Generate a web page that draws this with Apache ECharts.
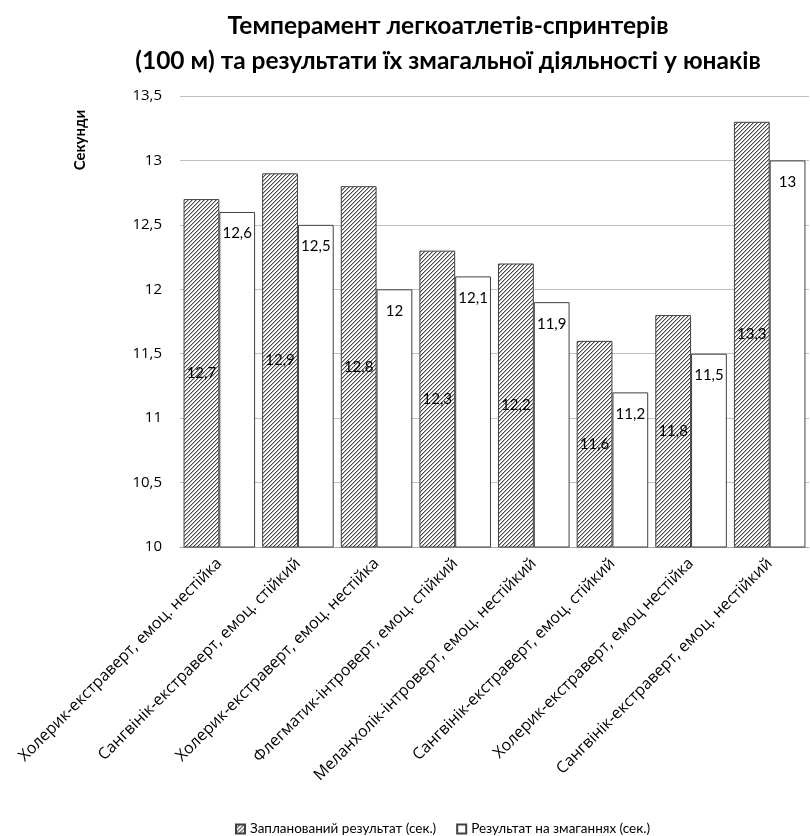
<!DOCTYPE html>
<html>
<head>
<meta charset="utf-8">
<script src="https://cdn.jsdelivr.net/npm/echarts@6/dist/echarts.min.js"></script>
<style>
  html, body { margin: 0; padding: 0; background: #fff; }
  #chart { width: 810px; height: 836px; }
</style>
</head>
<body>
<div id="chart"></div>
<script>
// категорії та значення
var categories = [
    'Холерик-екстраверт, емоц. нестійка',
    'Сангвінік-екстраверт, емоц. стійкий',
    'Холерик-екстраверт, емоц. нестійка',
    'Флегматик-інтроверт, емоц. стійкий',
    'Меланхолік-інтроверт, емоц. нестійкий',
    'Сангвінік-екстраверт, емоц. стійкий',
    'Холерик-екстраверт, емоц нестійка',
    'Сангвінік-екстраверт, емоц. нестійкий'
]
var planned = [12.7, 12.9, 12.8, 12.3, 12.2, 11.6, 11.8, 13.3]
var actual = [12.6, 12.5, 12.0, 12.1, 11.9, 11.2, 11.5, 13.0]
var seriesNames = ['Запланований результат (сек.)', 'Результат на змаганнях (сек.)']

// штриховка "////" піксель за пікселем
function hatch() {
    var n = 4
    var c = document.createElement('canvas')
    c.width = n
    c.height = n
    var ctx = c.getContext('2d')
    ctx.fillStyle = '#fff'
    ctx.fillRect(0, 0, n, n)
    for (var y = 0; y < n; y++) {
        var x = n - 1 - y
        ctx.fillStyle = '#484848'
        ctx.fillRect(x, y, 1, 1)
        ctx.fillStyle = '#b4b4b4'
        ctx.fillRect((x + 1) % n, y, 1, 1)
    }
    return c
}
var pattern = { image: hatch(), repeat: 'repeat' }

function fmt(p) {
    return String(p.value).replace('.', ',')
}

var font = 'Lato, "Open Sans", sans-serif'
var font2 = '"Open Sans", Lato, sans-serif'
var myChart = echarts.init(document.getElementById('chart'))
myChart.setOption({
    animation: false,
    textStyle: { fontFamily: font },
    title: {
        text: 'Темперамент легкоатлетів-спринтерів\n(100 м) та результати їх змагальної діяльності у юнаків',
        left: 443,
        textAlign: 'center',
        top: 4,
        textStyle: { fontSize: 24.5, fontWeight: 'bold', color: '#000', lineHeight: 35, fontFamily: font }
    },
    graphic: [{
        type: 'text',
        x: 80,
        y: 140,
        rotation: Math.PI / 2,
        style: {
            text: 'Секунди',
            fontSize: 15,
            fontWeight: 'bold',
            fill: '#000',
            fontFamily: font,
            align: 'center',
            verticalAlign: 'middle'
        }
    }],
    legend: {
        top: 817,
        left: 230,
        itemGap: 20,
        itemWidth: 9,
        itemHeight: 9,
        icon: 'rect',
        textStyle: { fontSize: 13.5, color: '#000', fontFamily: font },
        data: seriesNames
    },
    grid: { left: 180, right: 1, top: 96, bottom: 289 },
    xAxis: {
        type: 'category',
        data: categories,
        axisTick: { show: false },
        axisLine: { lineStyle: { color: '#a6a6a6' } },
        axisLabel: { rotate: 45, fontSize: 16, color: '#000', margin: 14, interval: 0, fontFamily: font2 }
    },
    yAxis: {
        type: 'value',
        min: 10,
        max: 13.5,
        interval: 0.5,
        axisLabel: {
            fontSize: 15, color: '#000', margin: 18, fontFamily: font2,
            formatter: function (v) { return String(v).replace('.', ',') }
        },
        splitLine: { lineStyle: { color: '#bfbfbf' } }
    },
    series: [
        {
            name: seriesNames[0],
            type: 'bar',
            data: planned,
            barGap: '0%',
            barCategoryGap: '9%',
            itemStyle: { color: pattern, borderColor: '#404040', borderWidth: 1 },
            label: { show: true, position: 'inside', fontSize: 15, color: '#000', formatter: fmt, fontFamily: font }
        },
        {
            name: seriesNames[1],
            type: 'bar',
            data: actual,
            itemStyle: { color: '#fff', borderColor: '#404040', borderWidth: 1 },
            label: { show: true, position: 'insideTop', distance: 14, fontSize: 15, color: '#000', formatter: fmt, fontFamily: font }
        }
    ]
})
</script>
</body>
</html>
